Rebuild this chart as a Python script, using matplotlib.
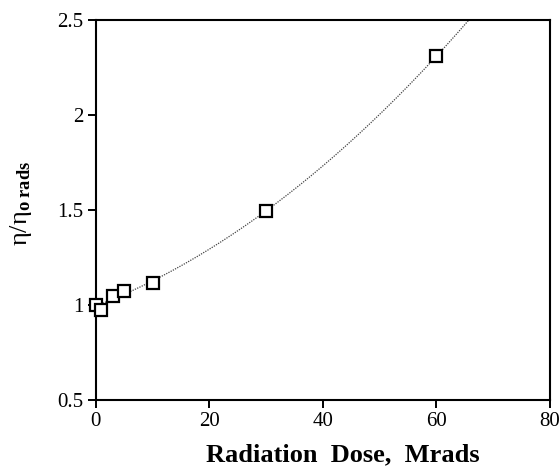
import numpy as np
import matplotlib
matplotlib.use("Agg")
import matplotlib.pyplot as plt

plt.rcParams['font.family'] = ['Liberation Serif', 'DejaVu Serif']
plt.rcParams['mathtext.fontset'] = 'custom'
plt.rcParams['mathtext.rm'] = 'Liberation Serif'
plt.rcParams['mathtext.it'] = 'Liberation Serif:italic'
plt.rcParams['mathtext.bf'] = 'Liberation Serif:bold'

# Relative viscosity versus absorbed dose
dose = [0, 1, 3, 5, 10, 30, 60]
visc_ratio = [1.0, 0.975, 1.05, 1.075, 1.115, 1.495, 2.31]

x_ticks = [0, 20, 40, 60, 80]
y_ticks = [0.5, 1, 1.5, 2, 2.5]
y_tick_labels = ['0.5', '1', '1.5', '2', '2.5']

fig = plt.figure(figsize=(5.6, 4.67), dpi=100)
ax = fig.add_axes([0.171, 0.1435, 0.811, 0.8135])

# quadratic trend through the measurements
coef = np.polyfit(dose, visc_ratio, 2)
xs = np.linspace(0, 80, 400)
ax.plot(xs, np.polyval(coef, xs), color='#444444', lw=0.9, ls=(0, (1, 1)))

ax.plot(dose, visc_ratio, ls='none', marker='s', ms=8.5, mfc='white',
        mec='black', mew=1.6, clip_on=False, zorder=3)

ax.set_xlim(0, 80)
ax.set_ylim(0.5, 2.5)
ax.set_xticks(x_ticks)
ax.set_xticklabels([str(t) for t in x_ticks])
ax.set_yticks(y_ticks)
ax.set_yticklabels(y_tick_labels)
ax.tick_params(direction='out', length=6, width=1.4, labelsize=15,
               top=False, right=False, pad=3)
for s in ax.spines.values():
    s.set_linewidth(1.5)

ax.set_xlabel('Radiation  Dose,  Mrads', fontsize=19, fontweight='bold')
ax.xaxis.set_label_coords(0.543, -0.115)
ax.set_ylabel(r'$\mathrm{η/η}_{\mathbf{o\ rads}}$', fontsize=19)
ax.yaxis.set_label_coords(-0.135, 0.518)

fig.savefig('out.png', dpi=100)
